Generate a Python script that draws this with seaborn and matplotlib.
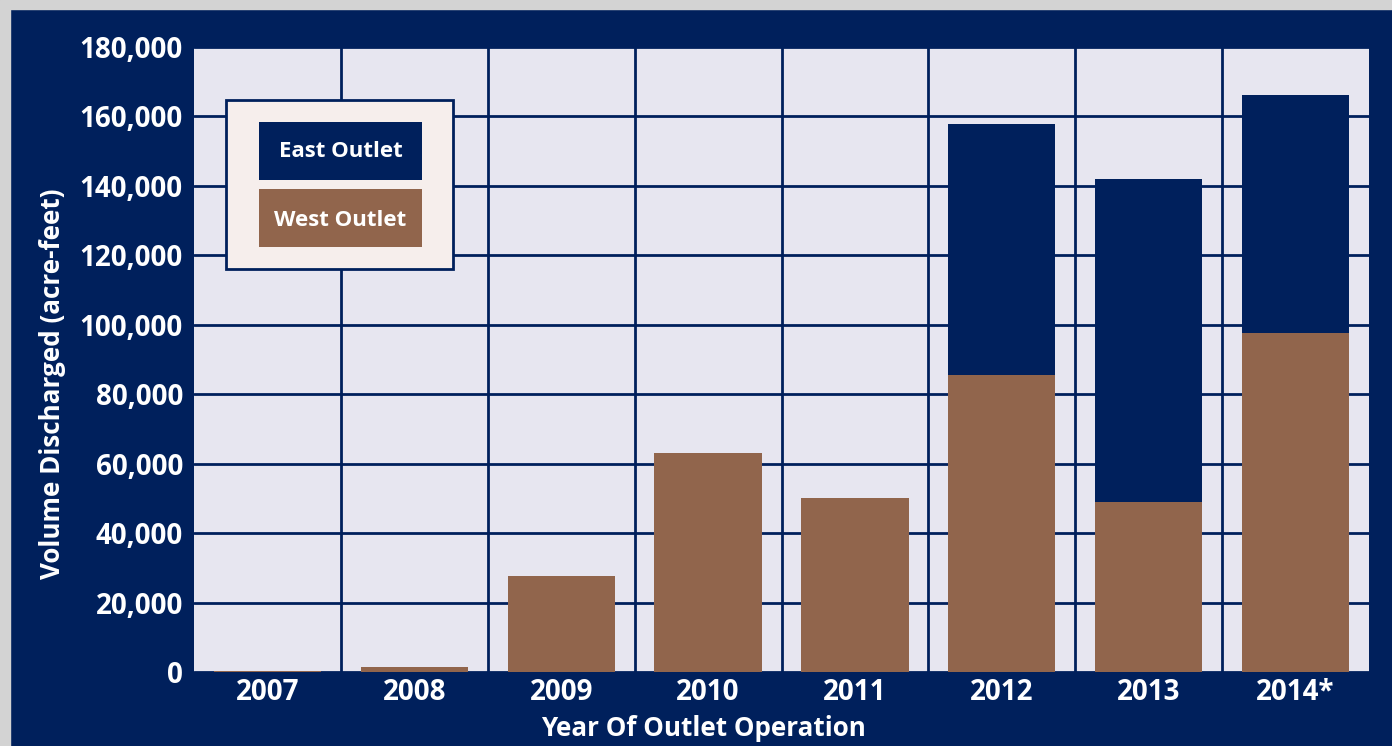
import pandas
import seaborn
import matplotlib.pyplot as plt
from matplotlib.patches import Rectangle
from matplotlib.ticker import FuncFormatter, MultipleLocator, FixedLocator

# values (acre-feet)
years = ['2007', '2008', '2009', '2010', '2011', '2012', '2013', '2014*']
west_outlet = [300, 1400, 27700, 63000, 50000, 85500, 49000, 97600]
east_outlet = [0, 0, 0, 0, 0, 72300, 93000, 68600]

NAVY = '#00205C'
BROWN = '#91654C'
PLOT_BG = '#E7E6F0'
LEGEND_BG = '#F6EEEC'
GRAY = '#D3D3D3'

df = pandas.DataFrame({'year': years, 'west': west_outlet, 'east': east_outlet})
df['total'] = df['west'] + df['east']

seaborn.set_theme(style='white')
plt.rcParams['font.family'] = ['Open Sans', 'DejaVu Sans']
plt.rcParams['font.weight'] = 'bold'

fig = plt.figure(figsize=(13.92, 7.46), dpi=100, facecolor=NAVY)
# thin gray strips at top and left
fig.patches.append(Rectangle((0, 1 - 9 / 746), 1, 9 / 746,
                             transform=fig.transFigure, color=GRAY, zorder=-10))
fig.patches.append(Rectangle((0, 0), 10 / 1392, 1,
                             transform=fig.transFigure, color=GRAY, zorder=-10))
ax = fig.add_axes([194 / 1392, 74 / 746, 1175 / 1392, 625 / 746])
ax.set_facecolor(PLOT_BG)

# stacked bars: total in navy, west drawn over it in brown
seaborn.barplot(data=df, x='year', y='total', color=NAVY, width=0.73,
                saturation=1, linewidth=0, ax=ax, zorder=3)
seaborn.barplot(data=df, x='year', y='west', color=BROWN, width=0.73,
                saturation=1, linewidth=0, ax=ax, zorder=4)

ax.set_xlim(-0.5, len(years) - 0.5)
ax.set_ylim(0, 180000)
ax.yaxis.set_major_locator(MultipleLocator(20000))
ax.yaxis.set_major_formatter(FuncFormatter(lambda v, p: f'{int(v):,}'))
ax.xaxis.set_minor_locator(FixedLocator([i + 0.5 for i in range(len(years) - 1)]))

ax.grid(axis='y', which='major', color=NAVY, linewidth=2)
ax.grid(axis='x', which='minor', color=NAVY, linewidth=2)
ax.grid(axis='x', which='major', visible=False)
ax.set_axisbelow(True)
for s in ax.spines.values():
    s.set_visible(False)

ax.tick_params(axis='both', which='both', length=0, colors='white', labelsize=20)
ax.tick_params(axis='y', pad=8)
ax.tick_params(axis='x', pad=4)
for lab in ax.get_xticklabels() + ax.get_yticklabels():
    lab.set_fontweight('bold')

ax.set_xlabel('Year Of Outlet Operation', color='white', fontsize=18.7,
              fontweight='bold')
ax.set_ylabel('Volume Discharged (acre-feet)', color='white', fontsize=18.7,
              fontweight='bold')
ax.xaxis.set_label_coords(0.434, -0.068)
ax.yaxis.set_label_coords(-0.109, 0.461)

# hand-made legend box
ax.add_patch(Rectangle((0.0272, 0.6448), 0.1932, 0.2704, transform=ax.transAxes,
                       facecolor=LEGEND_BG, edgecolor=NAVY, linewidth=2, zorder=6))
ax.add_patch(Rectangle((0.0553, 0.787), 0.1387, 0.093, transform=ax.transAxes,
                       facecolor=NAVY, edgecolor='none', zorder=7))
ax.add_patch(Rectangle((0.0553, 0.68), 0.1387, 0.093, transform=ax.transAxes,
                       facecolor=BROWN, edgecolor='none', zorder=7))
ax.text(0.1247, 0.8335, 'East Outlet', transform=ax.transAxes, color='white',
        fontsize=16, fontweight='bold', ha='center', va='center', zorder=8)
ax.text(0.1247, 0.722, 'West Outlet', transform=ax.transAxes, color='white',
        fontsize=16, fontweight='bold', ha='center', va='center', zorder=8)

fig.savefig('out.png', dpi=100, facecolor=NAVY)
